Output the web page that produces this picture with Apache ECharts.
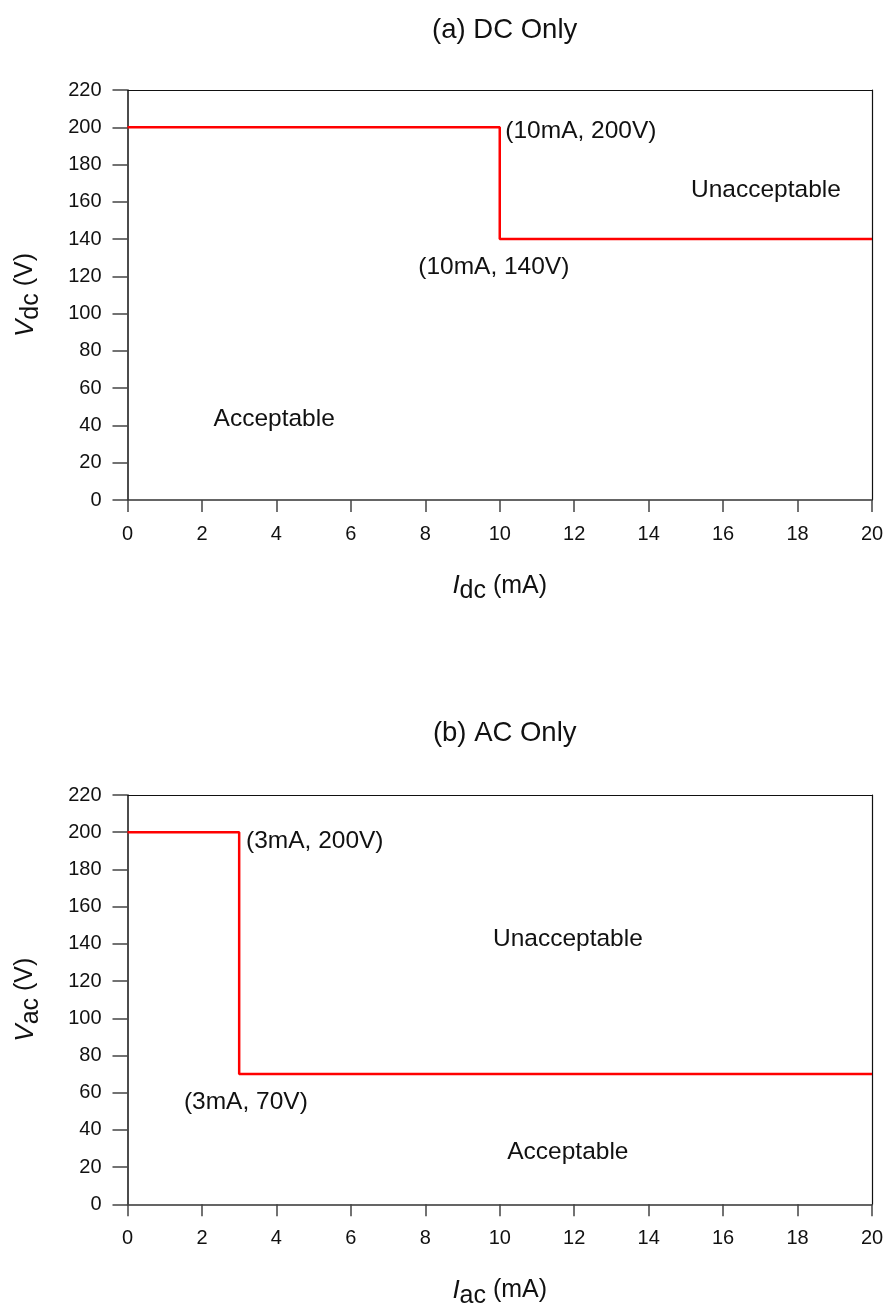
<!DOCTYPE html>
<html>
<head>
<meta charset="utf-8">
<script src="https://cdn.jsdelivr.net/npm/echarts@6/dist/echarts.min.js"></script>
<style>
html,body{margin:0;padding:0;background:#fff;}
#chart{width:885px;height:1303px;}
</style>
</head>
<body>
<div id="chart"></div>
<script>
// ---- data ----
const titles = ['(a) DC Only', '(b) AC Only'];
const xTicks = [0, 2, 4, 6, 8, 10, 12, 14, 16, 18, 20];
const yTicks = [0, 20, 40, 60, 80, 100, 120, 140, 160, 180, 200, 220];
const dcLimit = [[0, 200], [10, 200], [10, 140], [20, 140]];
const acLimit = [[0, 200], [3, 200], [3, 70], [20, 70]];
const dcNotes = [[12.18, 197.6, '(10mA, 200V)'], [9.84, 125, '(10mA, 140V)'], [17.15, 166.3, 'Unacceptable'], [3.94, 43.5, 'Acceptable']];
const acNotes = [[5.03, 195.3, '(3mA, 200V)'], [11.83, 142.5, 'Unacceptable'], [3.18, 55, '(3mA, 70V)'], [11.83, 28.1, 'Acceptable']];
const subs = ['dc', 'ac'];

const FONT = 'Liberation Sans, Arial, sans-serif';
const INK = '#111';
const chart = echarts.init(document.getElementById('chart'), null, {renderer: 'canvas'});

const grids = [
  {left: 127.5, right: 13, top: 90, height: 410, outerBoundsMode: 'none', containLabel: false},
  {left: 127.5, right: 13, top: 795, height: 409.3, outerBoundsMode: 'none', containLabel: false}
];

const xAxes = [], yAxes = [], series = [];
[0, 1].forEach(function (g) {
  const sub = subs[g];
  xAxes.push({
    gridIndex: g, type: 'value', min: 0, max: 20, interval: 2,
    axisLine: {show: true, onZero: false, lineStyle: {color: '#333', width: 1.5}},
    axisTick: {show: true, length: 12, lineStyle: {color: '#444', width: 1.5}},
    axisLabel: {color: INK, fontSize: 20, fontFamily: FONT, margin: 24},
    splitLine: {show: false},
    name: '{i|I}{s|' + sub + '}{n| (mA)}',
    nameLocation: 'middle', nameGap: 68,
    nameTextStyle: {
      fontFamily: FONT, color: INK,
      rich: {
        i: {fontSize: 26, fontStyle: 'italic', fontFamily: FONT, color: INK},
        s: {fontSize: 25, fontFamily: FONT, color: INK, padding: [11, 0, 0, 0]},
        n: {fontSize: 25, fontFamily: FONT, color: INK}
      }
    }
  });
  xAxes.push({
    gridIndex: g, type: 'value', min: 0, max: 20, position: 'top',
    axisLine: {show: true, onZero: false, lineStyle: {color: INK, width: 1.2}},
    axisTick: {show: false}, axisLabel: {show: false}, splitLine: {show: false}
  });
  yAxes.push({
    gridIndex: g, type: 'value', min: 0, max: 220, interval: 20,
    axisLine: {show: true, onZero: false, lineStyle: {color: INK, width: 1.5}},
    axisTick: {show: true, length: 15, lineStyle: {color: '#444', width: 1.5}},
    axisLabel: {color: INK, fontSize: 20, fontFamily: FONT, margin: 26},
    splitLine: {show: false},
    name: '{i|V}{s|' + sub + '}{n| (V)}',
    nameLocation: 'middle', nameGap: 84, nameRotate: 90,
    nameTextStyle: {
      fontFamily: FONT, color: INK,
      rich: {
        i: {fontSize: 26, fontStyle: 'italic', fontFamily: FONT, color: INK},
        s: {fontSize: 25, fontFamily: FONT, color: INK, padding: [11, 0, 0, 0]},
        n: {fontSize: 25, fontFamily: FONT, color: INK}
      }
    }
  });
  yAxes.push({
    gridIndex: g, type: 'value', min: 0, max: 220, position: 'right',
    axisLine: {show: true, onZero: false, lineStyle: {color: INK, width: 1.2}},
    axisTick: {show: false}, axisLabel: {show: false}, splitLine: {show: false}
  });
  series.push({
    type: 'line', xAxisIndex: g * 2, yAxisIndex: g * 2,
    data: g === 0 ? dcLimit : acLimit,
    symbol: 'none', silent: true,
    lineStyle: {color: '#ff0000', width: 2.5}
  });
  const notes = g === 0 ? dcNotes : acNotes;
  series.push({
    type: 'scatter', xAxisIndex: g * 2, yAxisIndex: g * 2,
    data: notes.map(function (n) { return {value: [n[0], n[1]], name: n[2]}; }),
    symbolSize: 1, itemStyle: {color: 'rgba(0,0,0,0)', opacity: 1}, silent: true,
    label: {
      show: true, position: 'inside', formatter: '{b}', opacity: 1,
      color: INK, fontSize: 24.5, fontFamily: FONT
    }
  });
});

chart.setOption({
  animation: false,
  backgroundColor: '#fff',
  title: [
    {text: titles[0], left: 499.7, top: 25, textAlign: 'center', textVerticalAlign: 'middle',
     textStyle: {fontSize: 27.5, fontWeight: 'normal', color: INK, fontFamily: FONT}},
    {text: titles[1], left: 499.7, top: 728, textAlign: 'center', textVerticalAlign: 'middle',
     textStyle: {fontSize: 27.5, fontWeight: 'normal', color: INK, fontFamily: FONT}}
  ],
  grid: grids,
  xAxis: xAxes,
  yAxis: yAxes,
  series: series
});
</script>
</body>
</html>
